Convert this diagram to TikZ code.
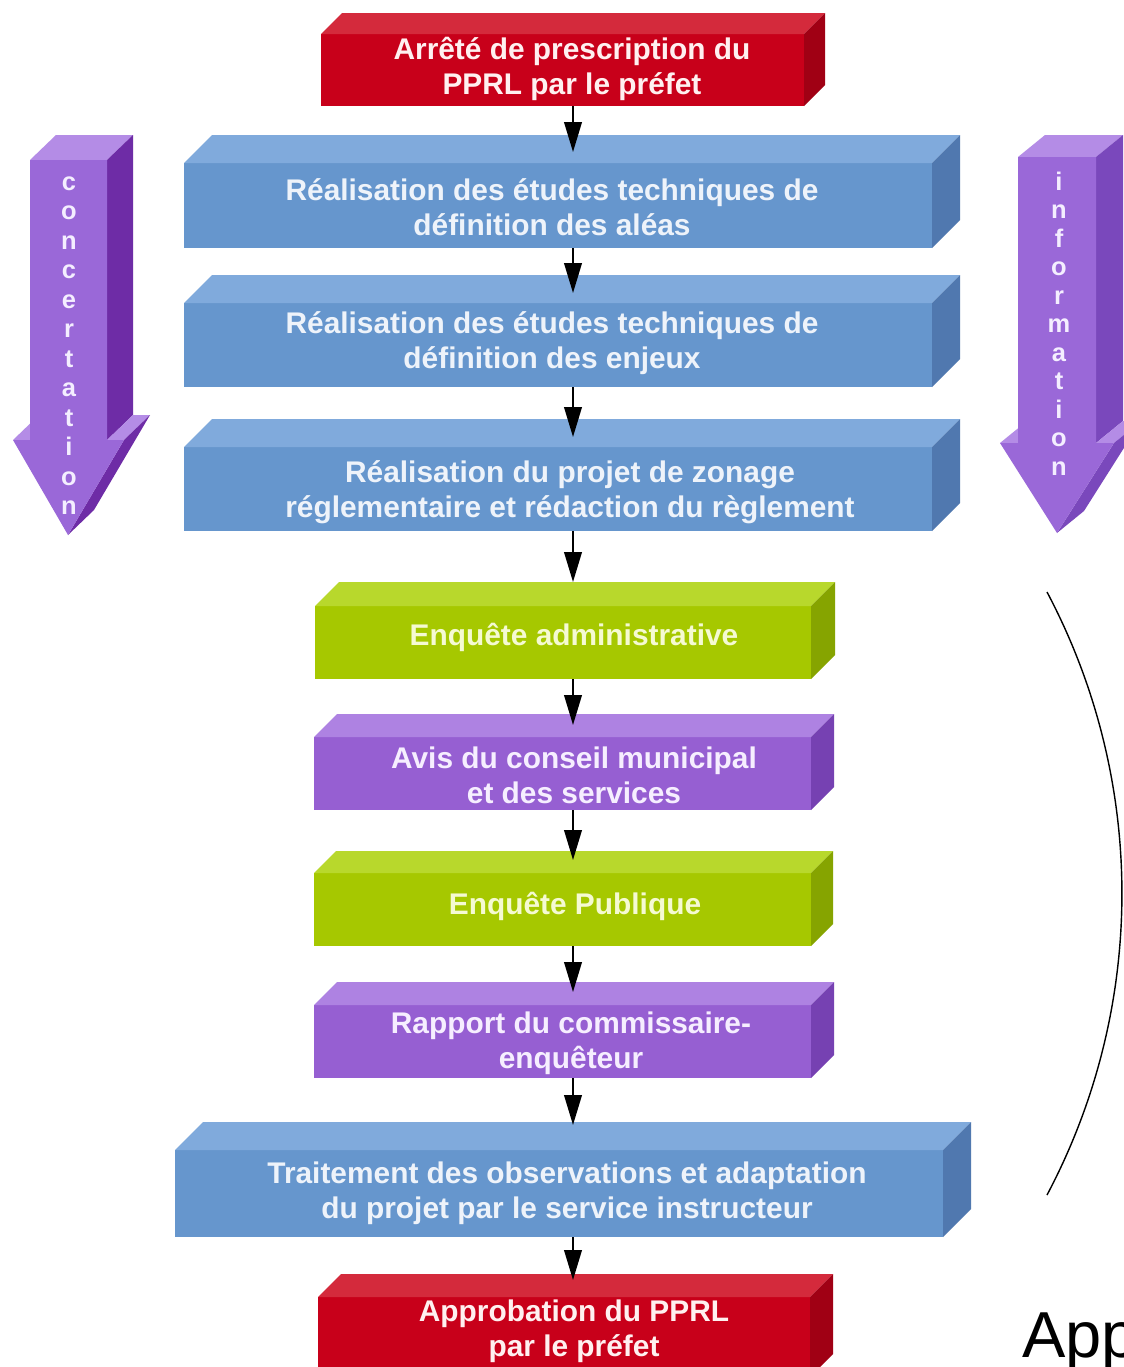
\documentclass[tikz,border=0pt]{standalone}
\usepackage{fontspec}
\setmainfont{Liberation Sans}
\usetikzlibrary{arrows.meta,calc}
\definecolor{redF}{HTML}{C8001A}\definecolor{redT}{HTML}{D42A3C}\definecolor{redS}{HTML}{A00014}
\definecolor{bluF}{HTML}{6696CD}\definecolor{bluT}{HTML}{80AADC}\definecolor{bluS}{HTML}{5078AF}
\definecolor{grnF}{HTML}{A6C800}\definecolor{grnT}{HTML}{B8D82C}\definecolor{grnS}{HTML}{86A400}
\definecolor{purF}{HTML}{965FD2}\definecolor{purT}{HTML}{AE82E2}\definecolor{purS}{HTML}{7641B2}
\definecolor{arrF}{HTML}{9A68D8}\definecolor{arrT}{HTML}{B48CE6}\definecolor{arrS}{HTML}{6E2CA6}
\definecolor{arrS2}{HTML}{7A48BC}
\definecolor{txtB}{HTML}{EEF3FA}\definecolor{txtR}{HTML}{FFF0F0}\definecolor{txtG}{HTML}{F5FAD2}
\definecolor{txtP}{HTML}{F6EEFF}\definecolor{txtL}{HTML}{F4EEFF}
\newcommand\drawdepth[4]{%
  \fill[#3] (#1.north west) -- ++(#2,-#2) -- ($(#1.north east)+(#2,-#2)$) -- (#1.north east) -- cycle;
  \fill[#4] (#1.north east) -- ++(#2,-#2) -- ($(#1.south east)+(#2,-#2)$) -- (#1.south east) -- cycle;}
\begin{document}
\begin{tikzpicture}[x=0.02cm,y=-0.02cm,
  face/.style={inner sep=0pt,outer sep=0pt,draw=none},
  boxtext/.style={align=center,inner sep=0pt,font=\bfseries\fontsize{17}{19.9}\selectfont},
  letter/.style={anchor=base,inner sep=0pt,text=txtL,font=\bfseries\fontsize{14.5}{16}\selectfont},
  conn/.style={draw=black,line width=1.1pt,-{Triangle[width=10pt,length=17pt]}}]
\fill[white] (0,0) rectangle (1124,1367);
\useasboundingbox (0,0) rectangle (1124,1367);

% ---- big side arrows
\fill[arrT] (30,160) -- (107,160) -- (133,135) -- (56,135) -- cycle;
\fill[arrS] (107,160) -- (133,135) -- (133,415) -- (107,440) -- cycle;
\fill[arrT] (107,440) -- (124,440) -- (150,415) -- (133,415) -- cycle;
\fill[arrS] (124,440) -- (150,415) -- (94,510) -- (68,535) -- cycle;
\fill[arrT] (13,440) -- (30,440) -- (56,415) -- (39,415) -- cycle;
\fill[arrF] (30,160) -- (107,160) -- (107,440) -- (124,440) -- (68,535) -- (13,440) -- (30,440) -- cycle;
\foreach \l [count=\i] in {c,o,n,c,e,r,t,a,t,i,o,n}
  \node[letter] (lc\i) at (69,{190+(\i-1)*29.5}) {\l};

\fill[arrT] (1018,157) -- (1096,157) -- (1123,135) -- (1045,135) -- cycle;
\fill[arrS2] (1096,157) -- (1123,135) -- (1123,421) -- (1096,443) -- cycle;
\fill[arrT] (1096,443) -- (1114,443) -- (1141,421) -- (1123,421) -- cycle;
\fill[arrS2] (1114,443) -- (1141,421) -- (1084,511) -- (1057,533) -- cycle;
\fill[arrT] (1000,443) -- (1018,443) -- (1045,421) -- (1027,421) -- cycle;
\fill[arrF] (1018,157) -- (1096,157) -- (1096,443) -- (1114,443) -- (1057,533) -- (1000,443) -- (1018,443) -- cycle;
\foreach \l [count=\i] in {i,n,f,o,r,m,a,t,i,o,n}
  \node[letter] (li\i) at (1059,{190+(\i-1)*28.5}) {\l};

% ---- boxes (front faces)
\node[face,fill=redF,minimum width=483*0.02cm,minimum height=72*0.02cm] (r1) at (562.5,70) {};
\node[face,fill=bluF,minimum width=748*0.02cm,minimum height=85*0.02cm] (b1) at (558,205.5) {};
\node[face,fill=bluF,minimum width=748*0.02cm,minimum height=84*0.02cm] (b2) at (558,345) {};
\node[face,fill=bluF,minimum width=748*0.02cm,minimum height=84*0.02cm] (b3) at (558,489) {};
\node[face,fill=grnF,minimum width=496*0.02cm,minimum height=73*0.02cm] (g1) at (563,642.5) {};
\node[face,fill=purF,minimum width=497*0.02cm,minimum height=73*0.02cm] (p1) at (562.5,773.5) {};
\node[face,fill=grnF,minimum width=497*0.02cm,minimum height=73*0.02cm] (g2) at (562.5,909.5) {};
\node[face,fill=purF,minimum width=497*0.02cm,minimum height=73*0.02cm] (p2) at (562.5,1041.5) {};
\node[face,fill=bluF,minimum width=768*0.02cm,minimum height=87*0.02cm] (b4) at (559,1193.5) {};
\node[face,fill=redF,minimum width=492*0.02cm,minimum height=80*0.02cm] (r2) at (564,1337) {};

\drawdepth{r1}{21}{redT}{redS}
\drawdepth{b1}{28}{bluT}{bluS}
\drawdepth{b2}{28}{bluT}{bluS}
\drawdepth{b3}{28}{bluT}{bluS}
\drawdepth{g1}{24}{grnT}{grnS}
\drawdepth{p1}{23}{purT}{purS}
\drawdepth{g2}{22}{grnT}{grnS}
\drawdepth{p2}{23}{purT}{purS}
\drawdepth{b4}{28}{bluT}{bluS}
\drawdepth{r2}{23}{redT}{redS}

% ---- box texts
\node[boxtext,text=txtR] (r1t) at (572,69) {Arrêté de prescription du\\PPRL par le préfet};
\node[boxtext,text=txtB] (b1t) at (552,207) {Réalisation des études techniques de\\définition des aléas};
\node[boxtext,text=txtB] (b2t) at (552,343) {Réalisation des études techniques de\\définition des enjeux};
\node[boxtext,text=txtB] (b3t) at (570,492) {Réalisation du projet de zonage\\réglementaire et rédaction du règlement};
\node[boxtext,text=txtG] (g1t) at (574,637) {Enquête administrative};
\node[boxtext,text=txtP] (p1t) at (574,775) {Avis du conseil municipal\\et des services};
\node[boxtext,text=txtG] (g2t) at (575,906) {Enquête Publique};
\node[boxtext,text=txtP] (p2t) at (571,1043) {Rapport du commissaire-\\enquêteur};
\node[boxtext,text=txtB] (b4t) at (567,1193) {Traitement des observations et adaptation\\du projet par le service instructeur};
\node[boxtext,text=txtR] (r2t) at (574,1331) {Approbation du PPRL\\par le préfet};

% ---- connectors
\coordinate (ax) at (573,0);
\coordinate (t1) at (573,152);
\coordinate (t2) at (573,293);
\coordinate (t3) at (573,437);
\coordinate (t4) at (573,582);
\coordinate (t5) at (573,725);
\coordinate (t6) at (573,860);
\coordinate (t7) at (573,992);
\coordinate (t8) at (573,1125);
\coordinate (t9) at (573,1280);
\draw[conn] (r1.south -| ax) -- (t1);
\draw[conn] (b1.south -| ax) -- (t2);
\draw[conn] (b2.south -| ax) -- (t3);
\draw[conn] (b3.south -| ax) -- (t4);
\draw[conn] (g1.south -| ax) -- (t5);
\draw[conn] (p1.south -| ax) -- (t6);
\draw[conn] (g2.south -| ax) -- (t7);
\draw[conn] (p2.south -| ax) -- (t8);
\draw[conn] (b4.south -| ax) -- (t9);

% ---- right bracket and cut label
\coordinate (arcA) at (1047,592);
\coordinate (arcB) at (1047,1195);
\draw[line width=0.8pt] (arcA) .. controls (1146.9,780.6) and (1146.9,1006.4) .. (arcB);
\node[anchor=base west,inner sep=0pt,font=\fontsize{37}{40}\selectfont] (app) at (1022,1357) {App};
\end{tikzpicture}
\end{document}
